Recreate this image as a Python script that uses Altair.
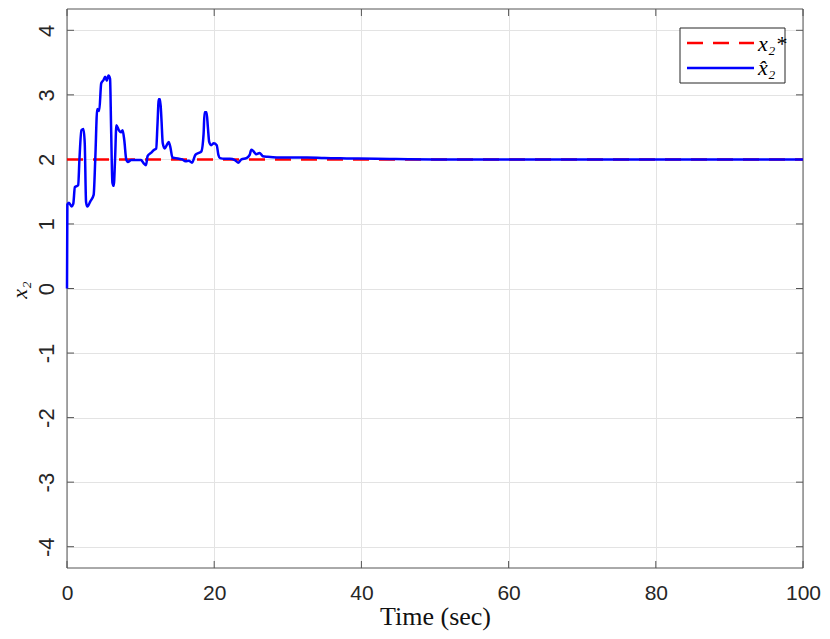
import altair as alt
import pandas as pd

# ---- data ----
time_hat = [0, 0.05, 0.26, 0.62, 0.85, 1.07, 1.52, 1.69, 1.96, 2.23, 2.41, 2.59, 2.77, 3.17, 3.62,
            3.84, 4.11, 4.38, 4.65, 4.96, 5.18, 5.41, 5.63, 5.85, 5.99, 6.17, 6.35, 6.53, 6.71,
            7.06, 7.33, 7.55, 7.78, 8.05, 8.27, 8.72, 9.39, 10.06, 10.42, 10.73, 10.95, 11.40,
            11.85, 12.12, 12.29, 12.47, 12.65, 12.83, 13.01, 13.28, 13.55, 13.82, 14.08, 14.31,
            14.75, 15.2, 15.65, 16.1, 16.54, 16.99, 17.44, 17.89, 18.24, 18.56, 18.69, 18.96,
            19.14, 19.32, 19.58, 19.94, 20.34, 20.57, 20.79, 21.46, 22.13, 22.81, 23.25, 23.70,
            24.37, 24.82, 25.04, 25.31, 25.71, 26.16, 26.61, 27.28, 28.5, 31.3, 32.6, 35, 38,
            42, 50, 100]
x2_hat = [0, 1.30, 1.33, 1.27, 1.31, 1.57, 1.60, 2.00, 2.45, 2.47, 2.25, 1.34, 1.27, 1.35, 1.45,
          2.00, 2.78, 2.75, 3.18, 3.23, 3.28, 3.22, 3.30, 3.25, 2.50, 1.64, 1.59, 2.00, 2.53,
          2.45, 2.42, 2.45, 2.30, 2.00, 1.96, 1.99, 1.99, 1.99, 1.94, 1.91, 2.05, 2.10,
          2.15, 2.17, 2.53, 2.93, 2.93, 2.63, 2.25, 2.17, 2.22, 2.27, 2.17, 2.03,
          2.02, 2.01, 2.00, 1.97, 1.98, 1.95, 2.07, 2.10, 2.12, 2.40, 2.73, 2.73,
          2.50, 2.27, 2.22, 2.25, 2.22, 2.07, 2.02, 2.01, 2.01, 1.99, 1.95, 2.00,
          2.02, 2.07, 2.15, 2.13, 2.08, 2.10, 2.05, 2.04, 2.03, 2.03, 2.03, 2.02, 2.015,
          2.01, 2.00, 2.00]
time_ref = [0, 100]
x2_ref = [2, 2]
x_ticks = [0, 20, 40, 60, 80, 100]
y_ticks = [-4, -3, -2, -1, 0, 1, 2, 3, 4]
label_ref = "x\u2082*"
label_hat = "x\u0302\u2082"

W, H = 736, 559
AXC = "#262626"
BOX = "#555555"

xscale = alt.Scale(domain=[0, 100], nice=False, zero=False)
yscale = alt.Scale(domain=[-4.33, 4.33], nice=False, zero=False)
xaxis = alt.Axis(values=x_ticks, grid=True, gridColor="#e3e3e3", domain=False, ticks=False,
                 tickSize=0, labelFont="Liberation Sans", labelFontSize=21, labelColor=AXC,
                 labelBaseline="alphabetic", labelPadding=31, labelFlush=False,
                 labelExpr="'' + datum.value",
                 title="Time (sec)", titleFont="Liberation Serif", titleFontSize=26,
                 titleFontWeight="normal", titleColor="#111111", titleBaseline="alphabetic",
                 titleX=W / 2, titleY=56)
yaxis = alt.Axis(values=y_ticks, grid=True, gridColor="#e3e3e3", domain=False, ticks=False,
                 tickSize=0, labelFont="Liberation Sans", labelFontSize=22, labelColor=AXC,
                 labelAngle=270, labelAlign="center", labelBaseline="alphabetic",
                 labelPadding=14, labelFlush=False,
                 labelExpr="'' + datum.value",
                 title="x\u2082", titleFont="Liberation Serif", titleFontSize=22,
                 titleFontStyle="italic", titleFontWeight="normal", titleColor="#111111",
                 titleAngle=270, titleAlign="center", titleBaseline="alphabetic",
                 titleX=-41, titleY=H / 2 + 1)

X = lambda: alt.X("t:Q", scale=xscale, axis=xaxis)
Y = lambda: alt.Y("v:Q", scale=yscale, axis=yaxis)

df_hat = pd.DataFrame({"t": time_hat, "v": x2_hat})
df_ref = pd.DataFrame({"t": time_ref, "v": x2_ref})
df_xt = pd.DataFrame({"t": x_ticks})
df_yt = pd.DataFrame({"v": y_ticks})
one = pd.DataFrame({"k": [0]})

box = alt.Chart(one).mark_rect(fill="transparent", stroke=BOX, strokeWidth=1).encode(
    x=alt.value(0), x2=alt.value(W), y=alt.value(0), y2=alt.value(H))

tl = alt.Chart(df_yt).mark_rule(color=BOX, strokeWidth=1).encode(y=Y(), x=alt.value(0), x2=alt.value(7))
tr = alt.Chart(df_yt).mark_rule(color=BOX, strokeWidth=1).encode(y=Y(), x=alt.value(W - 7), x2=alt.value(W))
tb = alt.Chart(df_xt).mark_rule(color=BOX, strokeWidth=1).encode(x=X(), y=alt.value(H - 7), y2=alt.value(H))
tt = alt.Chart(df_xt).mark_rule(color=BOX, strokeWidth=1).encode(x=X(), y=alt.value(0), y2=alt.value(7))

red = alt.Chart(df_ref).mark_line(color="#ff0000", strokeWidth=2.5, strokeDash=[16, 10]).encode(x=X(), y=Y())
blue = alt.Chart(df_hat).mark_line(color="#0000ff", strokeWidth=2.5, interpolate="monotone").encode(x=X(), y=Y())

# legend (drawn by hand, top-right inside the plot)
lx0, lx1, ly0, ly1 = W - 123, W - 18, 19, 74
leg_box = alt.Chart(one).mark_rect(fill="white", stroke=AXC, strokeWidth=1).encode(
    x=alt.value(lx0), x2=alt.value(lx1), y=alt.value(ly0), y2=alt.value(ly1))
leg_r = alt.Chart(one).mark_rule(color="#ff0000", strokeWidth=2.5, strokeDash=[16, 10]).encode(
    x=alt.value(lx0 + 7), x2=alt.value(lx0 + 74), y=alt.value(34))
leg_b = alt.Chart(one).mark_rule(color="#0000ff", strokeWidth=2.5).encode(
    x=alt.value(lx0 + 7), x2=alt.value(lx0 + 74), y=alt.value(59))
leg_tr = alt.Chart(one).mark_text(align="left", baseline="middle", font="Liberation Serif",
                                  fontSize=22, fontStyle="italic", color="black").encode(
    x=alt.value(lx0 + 78), y=alt.value(35), text=alt.value(label_ref))
leg_tb = alt.Chart(one).mark_text(align="left", baseline="middle", font="Liberation Serif",
                                  fontSize=22, fontStyle="italic", color="black").encode(
    x=alt.value(lx0 + 78), y=alt.value(59), text=alt.value(label_hat))

chart = alt.layer(box, tl, tr, tb, tt, red, blue, leg_box, leg_r, leg_b, leg_tr, leg_tb).properties(
    width=W, height=H, autosize="none",
    padding={"left": 59, "top": 1, "right": 19, "bottom": 63},
    background="white",
).configure_view(stroke="transparent")

chart.save("out.html", embed_options={"renderer": "svg", "actions": False})
